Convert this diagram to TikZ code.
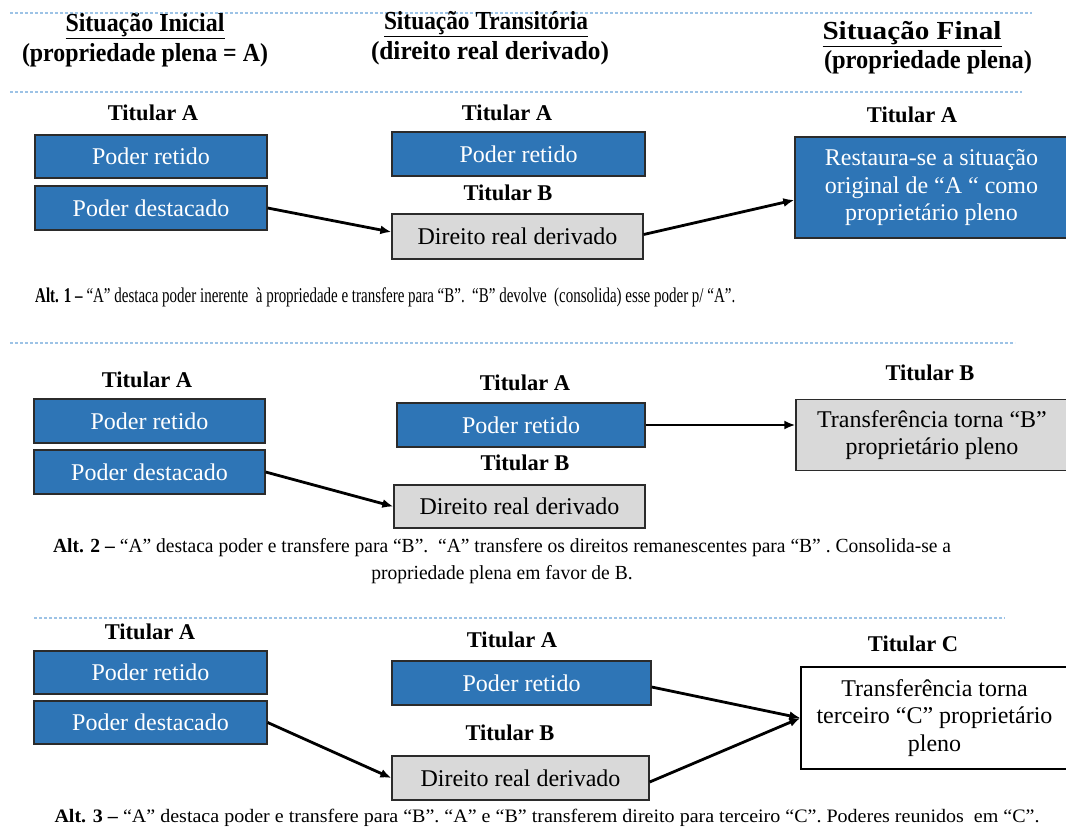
\documentclass[tikz,border=0pt]{standalone}
\usepackage{fontspec}
\usepackage{graphicx}
\setmainfont{Liberation Serif}
\usetikzlibrary{arrows.meta}
\definecolor{boxblue}{HTML}{2E75B6}
\definecolor{boxgray}{HTML}{D9D9D9}
\definecolor{edgecol}{HTML}{2B2B2B}
\definecolor{dashblue}{HTML}{9DC3E6}
\newsavebox{\fitbox}
\newcommand{\fitw}[2]{\sbox{\fitbox}{#2}\pgfmathsetmacro{\fitfac}{#1/\wd\fitbox}\scalebox{\fitfac}[1]{\usebox{\fitbox}}}
\tikzset{
  boxbase/.style={draw=edgecol, line width=1.3pt, inner sep=0pt, align=center,
    font=\fontsize{24}{27.5}\selectfont},
  bluebox/.style={boxbase, fill=boxblue, text=white},
  graybox/.style={boxbase, fill=boxgray, text=black},
  whitebox/.style={boxbase, draw=black, fill=white, text=black},
  holder/.style={inner sep=0pt, font=\bfseries\fontsize{22.5}{26}\selectfont},
  head/.style={inner sep=0pt, font=\bfseries\fontsize{26}{30}\selectfont},
  capt/.style={inner sep=0pt, align=center},
  conn/.style={line width=2.8pt, -{Latex[length=11pt,width=9pt]}},
  sepline/.style={dashblue, line width=1.4pt, dash pattern=on 3pt off 2pt},
}
\begin{document}
\begin{tikzpicture}[x=1pt,y=-1pt]
\useasboundingbox (0,0) rectangle (1066,839);
\clip (0,0) rectangle (1066,839);

% separators
\draw[sepline] (10,13) -- (1032,13);
\draw[sepline] (10,92) -- (1022,92);
\draw[sepline] (10,343) -- (1015,343);
\draw[sepline] (34,618) -- (1005,618);

% headings
\node[head] (h1) at (145,26) {\fitw{159}{\underline{Situação Inicial}}};
\node[head] (h1s) at (145,55) {\fitw{246}{(propriedade plena = A)}};
\node[head] (h2) at (486,24) {\fitw{204}{\underline{Situação Transitória}}};
\node[head] (h2s) at (490,53) {\fitw{238}{(direito real derivado)}};
\node[head] (h3) at (912,34) {\fitw{179}{\underline{Situação Final}}};
\node[head] (h3s) at (928,62) {\fitw{208}{(propriedade plena)}};

% ---- Alt 1
\node[holder] (a1) at (153,113) {Titular A};
\node[bluebox, minimum width=232pt, minimum height=43pt] (a1r) at (151,156.5) {Poder retido};
\node[bluebox, minimum width=232pt, minimum height=44pt] (a1d) at (151,208) {Poder destacado};
\node[holder] (b1a) at (507,113) {Titular A};
\node[bluebox, minimum width=253pt, minimum height=44pt] (b1r) at (518.5,154) {Poder retido};
\node[holder] (b1b) at (508,193) {Titular B};
\node[graybox, minimum width=251pt, minimum height=45pt] (b1d) at (517.5,236.5) {Direito real derivado};
\node[holder] (c1a) at (912,115) {Titular A};
\node[bluebox, minimum width=273pt, minimum height=101pt] (c1) at (931.5,187.5)
  {Restaura-se a situação\\original de “A “ como\\proprietário pleno};
\draw[conn] (a1d.east) -- ([yshift=4.5pt]b1d.west);
\draw[conn] ([yshift=2pt]b1d.east) -- ([yshift=-12.5pt]c1.west);
\node[capt, anchor=west] (cap1) at (35,297) {\fitw{700}{\fontsize{21}{24}\selectfont
  \textbf{Alt. 1 –} “A” destaca poder inerente\ \ à propriedade e transfere para “B”.\ \ “B” devolve\ \ (consolida) esse poder p/ “A”.}};

% ---- Alt 2
\node[holder] (a2) at (147,380) {Titular A};
\node[bluebox, minimum width=231pt, minimum height=44pt] (a2r) at (149.5,421) {Poder retido};
\node[bluebox, minimum width=231pt, minimum height=44pt] (a2d) at (149.5,472) {Poder destacado};
\node[holder] (b2a) at (525,383) {Titular A};
\node[bluebox, minimum width=248pt, minimum height=44pt] (b2r) at (521,425) {Poder retido};
\node[holder] (b2b) at (525,463) {Titular B};
\node[graybox, minimum width=251pt, minimum height=43pt] (b2d) at (519.5,506.5) {Direito real derivado};
\node[holder] (c2b) at (930,373) {Titular B};
\node[graybox, minimum width=272pt, minimum height=71pt] (c2) at (932,435)
  {Transferência torna “B”\\proprietário pleno};
\draw[conn] (a2d.east) -- (b2d.west);
\draw[conn] (b2r.east) -- (b2r.east -| c2.west);
\node[capt] (cap2) at (502,561) {\fitw{898}{\fontsize{20}{27}\selectfont
  \begin{tabular}{@{}c@{}}\textbf{Alt. 2 –} “A” destaca poder e transfere para “B”.\ \ “A” transfere os direitos remanescentes para “B” . Consolida-se a\\propriedade plena em favor de B.\end{tabular}}};

% ---- Alt 3
\node[holder] (a3) at (150,632) {Titular A};
\node[bluebox, minimum width=233pt, minimum height=43pt] (a3r) at (150.5,672.5) {Poder retido};
\node[bluebox, minimum width=233pt, minimum height=43pt] (a3d) at (150.5,722.5) {Poder destacado};
\node[holder] (b3a) at (512,640) {Titular A};
\node[bluebox, minimum width=259pt, minimum height=44pt] (b3r) at (521.5,683) {Poder retido};
\node[holder] (b3b) at (510,733) {Titular B};
\node[graybox, minimum width=257pt, minimum height=44pt] (b3d) at (520.5,778) {Direito real derivado};
\node[holder] (c3c) at (913,644) {Titular C};
\node[whitebox, minimum width=267pt, minimum height=102pt] (c3) at (934.5,718)
  {Transferência torna\\terceiro “C” proprietário\\pleno};
\draw[conn] (a3d.east) -- (b3d.west);
\draw[conn] ([yshift=-4pt]b3r.east) -- (c3.west);
\draw[conn] ([yshift=-4pt]b3d.east) -- (c3.west);
\node[capt] (cap3) at (547,818) {\fitw{985}{\fontsize{19}{23}\selectfont
  \textbf{Alt. 3 –} “A” destaca poder e transfere para “B”. “A” e “B” transferem direito para terceiro “C”. Poderes reunidos\ \ em “C”.}};
\end{tikzpicture}
\end{document}
